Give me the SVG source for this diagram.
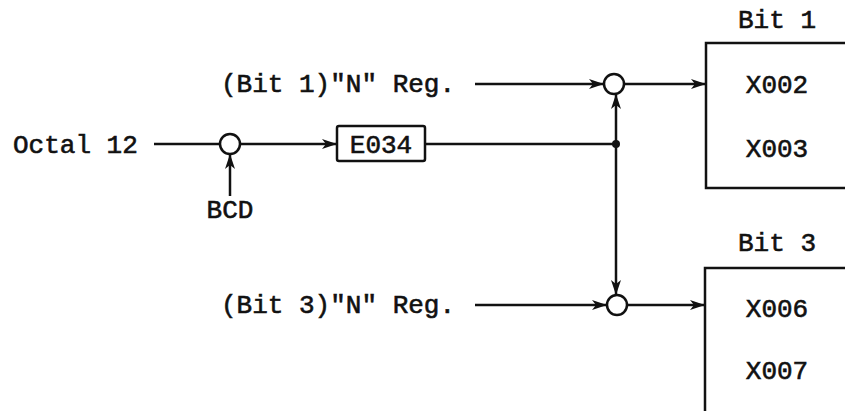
<svg xmlns="http://www.w3.org/2000/svg" width="845" height="411" viewBox="0 0 845 411">
<style>
text{font-family:"Liberation Mono","DejaVu Sans Mono",monospace;font-size:26px;fill:#111;stroke:#111;stroke-width:0.6}
.ln{stroke:#111;stroke-width:2.5;fill:none}
.nd{stroke:#111;stroke-width:2.5;fill:#fff}
.bx{stroke:#111;stroke-width:2.5;fill:none}
.c{text-anchor:middle}
</style>
<defs>
<marker id="ah" markerUnits="userSpaceOnUse" markerWidth="16" markerHeight="12" refX="15" refY="6" orient="auto-start-reverse">
<path d="M0,1 L15,6 L0,11 L4,6 Z" fill="#111"/>
</marker>
</defs>
<rect width="845" height="411" fill="#fff"/>
<g id="connectors">
<line class="ln" x1="154" y1="144" x2="220" y2="144"/>
<line class="ln" x1="240" y1="144" x2="337" y2="144" marker-end="url(#ah)"/>
<line class="ln" x1="230" y1="196" x2="230" y2="154" marker-end="url(#ah)"/>
<line class="ln" x1="425" y1="144" x2="616" y2="144"/>
<line class="ln" x1="616" y1="94" x2="616" y2="295" marker-start="url(#ah)" marker-end="url(#ah)"/>
<circle cx="616" cy="144" r="4" fill="#111"/>
<line class="ln" x1="475" y1="84" x2="604" y2="84" marker-end="url(#ah)"/>
<line class="ln" x1="624" y1="84" x2="706" y2="84" marker-end="url(#ah)"/>
<line class="ln" x1="475" y1="305" x2="607" y2="305" marker-end="url(#ah)"/>
<line class="ln" x1="627" y1="305" x2="705" y2="305" marker-end="url(#ah)"/>
</g>
<g id="octal-label"><text x="13" y="153">Octal 12</text></g>
<g id="bcd-label"><text class="c" x="230" y="218">BCD</text></g>
<g id="gate-bcd"><circle class="nd" cx="230" cy="144" r="10"/></g>
<g id="e034"><rect class="bx" x="337" y="126" width="88" height="35" rx="2"/><text class="c" x="381" y="153">E034</text></g>
<g id="bit1-nreg"><text x="221" y="92">(Bit 1)"N" Reg.</text></g>
<g id="bit3-nreg"><text x="221" y="313">(Bit 3)"N" Reg.</text></g>
<g id="gate-bit1"><circle class="nd" cx="614" cy="84" r="10"/></g>
<g id="gate-bit3"><circle class="nd" cx="617" cy="305" r="10"/></g>
<g id="box-bit1">
<path class="bx" d="M850,43 H706 V188 H850"/>
<text class="c" x="777" y="28">Bit 1</text>
<text class="c" x="777" y="93">X002</text>
<text class="c" x="777" y="157">X003</text>
</g>
<g id="box-bit3">
<path class="bx" d="M850,268 H705 V415"/>
<text class="c" x="777" y="251">Bit 3</text>
<text class="c" x="777" y="317">X006</text>
<text class="c" x="777" y="379">X007</text>
</g>
</svg>
